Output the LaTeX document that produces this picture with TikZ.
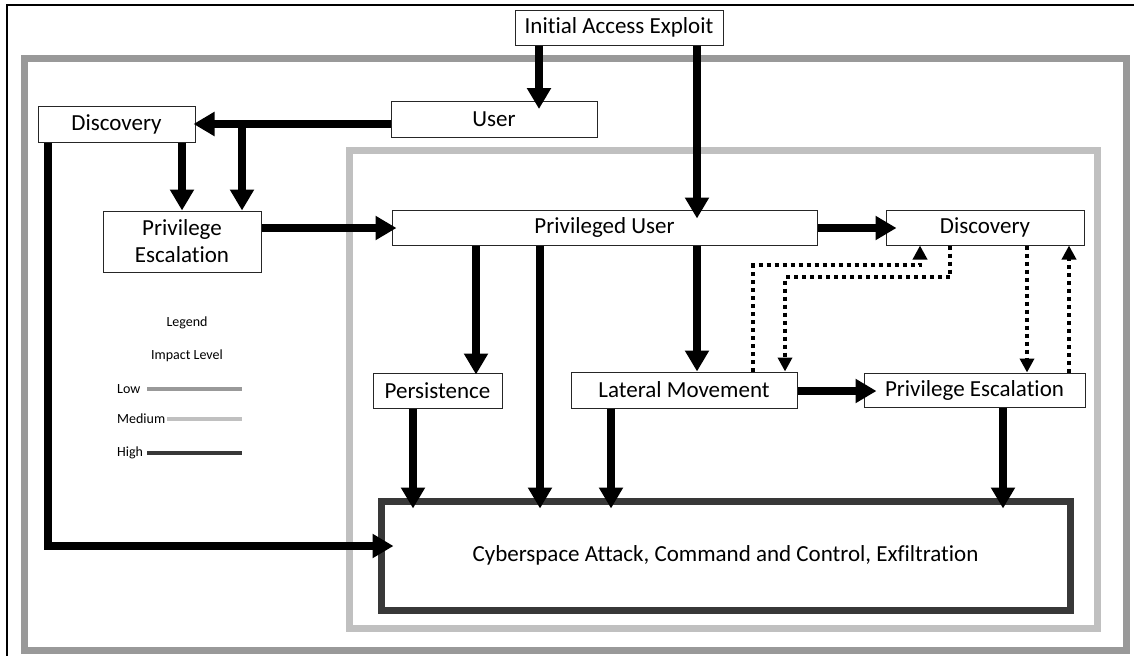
\documentclass[tikz,border=0pt]{standalone}
\usepackage{fontspec}
\setmainfont{Carlito}[Ligatures=NoCommon]
\usetikzlibrary{arrows.meta}
\definecolor{lowc}{HTML}{999999}
\definecolor{medc}{HTML}{C0C0C0}
\definecolor{highc}{HTML}{383838}
\tikzset{
  box/.style={draw=black!85, line width=1pt, fill=white, inner sep=0pt, font=\fontsize{23}{27}\selectfont, align=center},
  arr/.style={line width=7.5pt, -{Triangle[length=21pt,width=23pt]}},
  darr/.style={line width=4pt, dash pattern=on 4pt off 4pt, -{Triangle[length=14pt,width=14pt]}},
  frame/.style={line width=7pt},
  legtxt/.style={font=\fontsize{14}{16}\selectfont, inner sep=0pt},
}
\begin{document}
\begin{tikzpicture}[x=1pt,y=-1pt]
\useasboundingbox (0,0) rectangle (1134,656);
% page border (top and left only visible)
\draw[line width=1.5pt] (1134,5) -- (7,5) -- (7,656);
% impact frames
\draw[frame, lowc] (24.5,58) rectangle (1126.5,650);
\draw[frame, medc] (349.5,150) rectangle (1097,628);
% nodes
\node[box, minimum width=208pt, minimum height=35pt] (iae) at (619,27.5) {Initial Access Exploit};
\node[box, minimum width=206pt, minimum height=36pt] (user) at (494,119.5) {User};
\node[box, minimum width=157pt, minimum height=36pt] (disc1) at (116.5,124) {Discovery};
\node[box, minimum width=158pt, minimum height=61pt] (pe1) at (182,241.5) {Privilege\\Escalation};
\node[box, minimum width=425pt, minimum height=35pt] (pu) at (604.5,227.5) {Privileged User};
\node[box, minimum width=198pt, minimum height=35pt] (disc2) at (985,227.5) {Discovery};
\node[box, minimum width=129pt, minimum height=35pt] (pers) at (437.5,390.5) {Persistence};
\node[box, minimum width=226pt, minimum height=36pt] (lm) at (684,390) {Lateral Movement};
\node[box, minimum width=221pt, minimum height=34pt] (pe2) at (974.5,390) {Privilege Escalation};
\node[box, draw=highc, line width=7pt, minimum width=689pt, minimum height=109.5pt] (cyber) at (725.5,555.75) {Cyberspace Attack, Command and Control, Exfiltration};
% column / row helpers
\coordinate (cA) at (539,0);
\coordinate (cB) at (697,0);
\coordinate (cC) at (242,0);
\coordinate (cD) at (182,0);
\coordinate (cE) at (48,0);
\coordinate (cF) at (476,0);
\coordinate (cG) at (540,0);
\coordinate (cH) at (413,0);
\coordinate (cI) at (611,0);
\coordinate (cJ) at (1003,0);
\coordinate (rL) at (0,546);
\coordinate (rP) at (0,228);
\coordinate (rM) at (0,391);
% solid connectors
\draw[arr, shorten >=-8pt] (iae.south -| cA) -- (user.north -| cA);
\draw[arr, shorten >=-9pt] (iae.south -| cB) -- (pu.north -| cB);
\draw[arr, shorten >=-2pt] (user.west |- disc1.east) -- (disc1.east);
\draw[arr] (cC |- disc1.east) -- (pe1.north -| cC);
\draw[arr] (disc1.south -| cD) -- (pe1.north -| cD);
\draw[arr, shorten >=-16pt] (disc1.south -| cE) -- (cE |- rL) -- (cyber.west |- rL);
\draw[arr, shorten >=-5pt] (pe1.east |- rP) -- (pu.west |- rP);
\draw[arr, shorten >=-11pt] (pu.east |- rP) -- (disc2.west |- rP);
\draw[arr, shorten >=-2pt] (pu.south -| cF) -- (pers.north -| cF);
\draw[arr, shorten >=-11pt] (pu.south -| cG) -- (cyber.north -| cG);
\draw[arr] (pu.south -| cB) -- (lm.north -| cB);
\draw[arr, shorten >=-11pt] (pers.south -| cH) -- (cyber.north -| cH);
\draw[arr, shorten >=-11pt] (lm.south -| cI) -- (cyber.north -| cI);
\draw[arr, shorten >=-13pt] (lm.east |- rM) -- (pe2.west |- rM);
\draw[arr, shorten >=-11pt] (pe2.south -| cJ) -- (cyber.north -| cJ);
% dotted connectors
\coordinate (d1) at (753,265);
\coordinate (d1b) at (920,265);
\coordinate (d2) at (950,277);
\coordinate (d2b) at (785,277);
\coordinate (d3) at (1027,0);
\coordinate (d4) at (1069,0);
\draw[darr] (lm.north -| d1) -- (d1) -- (d1b) -- (disc2.south -| d1b);
\draw[darr] (disc2.south -| d2) -- (d2) -- (d2b) -- (lm.north -| d2b);
\draw[darr] (disc2.south -| d3) -- (pe2.north -| d3);
\draw[darr] (pe2.north -| d4) -- (disc2.south -| d4);
% legend
\node[legtxt] (lg) at (187,323) {Legend};
\node[legtxt] (il) at (187,356) {Impact Level};
\node[legtxt, anchor=west] (low) at (117,389) {Low};
\node[legtxt, anchor=west] (med) at (117,419) {Medium};
\node[legtxt, anchor=west] (high) at (117,453) {High};
\coordinate (lend) at (242,0);
\draw[line width=4pt, lowc] (147,389) -- (lend |- low.east);
\draw[line width=4pt, medc] (167,419) -- (lend |- med.east);
\draw[line width=4pt, highc] (147,453) -- (lend |- high.east);
\end{tikzpicture}
\end{document}
